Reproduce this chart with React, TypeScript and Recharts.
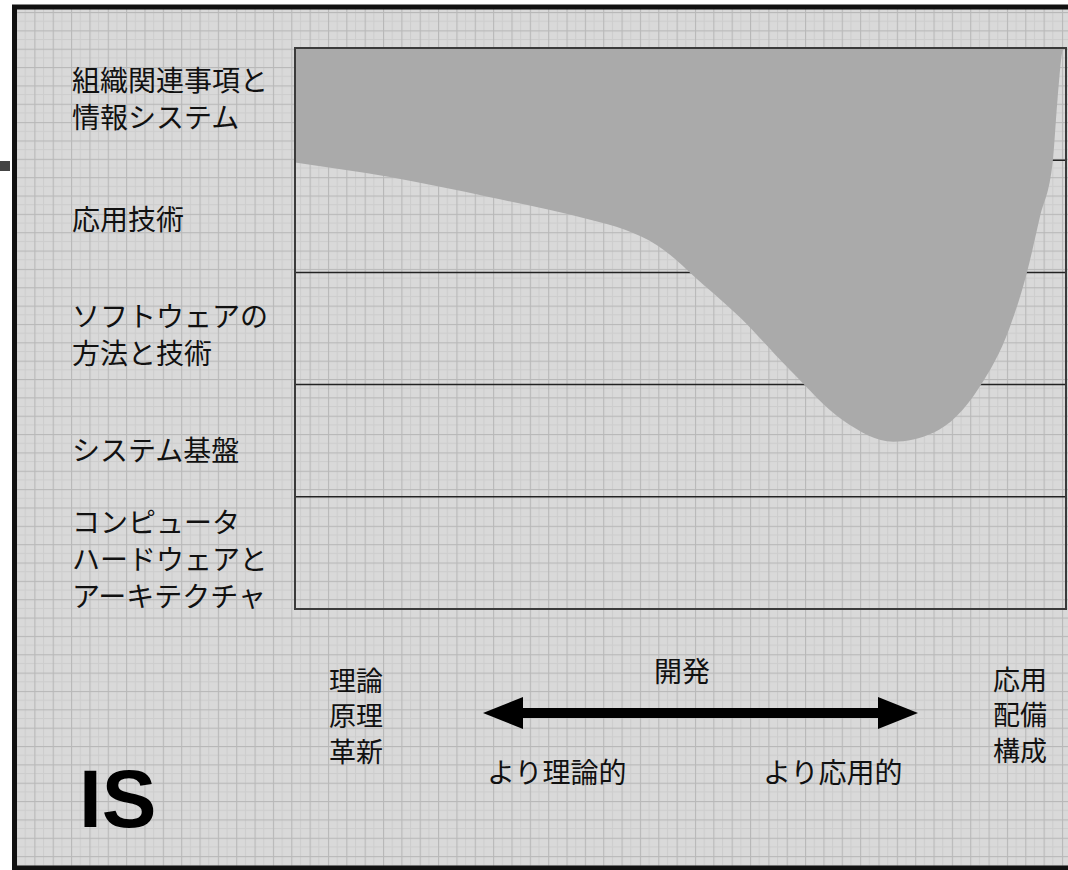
import React from "react";
import { AreaChart, Area, XAxis, YAxis, CartesianGrid, ReferenceArea } from "recharts";

// horizontal position across the plot (0 = left edge, 100 = right edge)
const curveX = [0, 12.3, 25.3, 38.3, 42.8, 47, 49.3, 51.2, 57.7, 64.2, 71.1, 77.6, 82.8, 88.8, 92.7, 94.9, 96.6, 98.3, 98.9, 99.6, 100];
// depth of the grey region, counted in bands from the top
const curveDepth = [1.02, 1.15, 1.33, 1.53, 1.62, 1.76, 1.88, 2.0, 2.4, 2.87, 3.32, 3.51, 3.43, 3.02, 2.49, 2.01, 1.51, 1.0, 0.46, 0.02, 0];

const bandLabels = [
  ["組織関連事項と", "情報システム"],
  ["応用技術"],
  ["ソフトウェアの", "方法と技術"],
  ["システム基盤"],
  ["コンピュータ", "ハードウェアと", "アーキテクチャ"],
];
const bandTicks = [0.5, 1.5, 2.5, 3.5, 4.5];
const bandEdges = [1, 2, 3, 4];

const leftEnd = ["理論", "原理", "革新"];
const rightEnd = ["応用", "配備", "構成"];
const axisTitle = "開発";
const leftHint = "より理論的";
const rightHint = "より応用的";
const badge = "IS";

const data = curveX.map((x, i) => ({ x, depth: curveDepth[i] }));

const W = 1068;
const H = 870;
const JP = '"Noto Sans CJK JP", "Noto Sans", sans-serif';
const labelNudge = [-7, 2, 5, 8, 5];

const BandTick = (props: any) => {
  const { y, payload, index } = props;
  const i = payload?.index ?? index ?? 0;
  const lines = bandLabels[i] || [];
  const cy = y + (labelNudge[i] || 0);
  return (
    <text x={72} y={cy} fontFamily={JP} fontSize={28} fill="#111" textAnchor="start">
      {lines.map((l, k) => (
        <tspan key={k} x={72} y={cy + (k - (lines.length - 1) / 2) * 37} dominantBaseline="central">
          {l}
        </tspan>
      ))}
    </text>
  );
};

const Stack = ({ lines, x, y }: { lines: string[]; x: number; y: number }) => (
  <text fontFamily={JP} fontSize={27} fill="#111">
    {lines.map((l, k) => (
      <tspan key={k} x={x} y={y + k * 35.5} dominantBaseline="central">
        {l}
      </tspan>
    ))}
  </text>
);

export default function App() {
  return (
    <div style={{ position: "fixed", left: 0, top: 0, width: W, height: H, overflow: "hidden" }}>
      <svg width={W} height={H} style={{ position: "absolute", left: 0, top: 0 }}>
        <defs>
          <pattern id="paper" x={16} y={12} width={18.35} height={18.35} patternUnits="userSpaceOnUse">
            <rect width={18.35} height={18.35} fill="#d9d9d9" />
            <line x1={9.2} y1={0} x2={9.2} y2={18.35} stroke="#cdcdcd" strokeWidth={1} />
            <line x1={0} y1={9.2} x2={18.35} y2={9.2} stroke="#cdcdcd" strokeWidth={1} />
            <line x1={0.5} y1={0} x2={0.5} y2={18.35} stroke="#b8b8b8" strokeWidth={1.2} />
            <line x1={0} y1={0.5} x2={18.35} y2={0.5} stroke="#b8b8b8" strokeWidth={1.2} />
          </pattern>
        </defs>
        <rect width={W} height={H} fill="#ffffff" />
        <rect x={14.5} y={7} width={1100} height={861} fill="url(#paper)" stroke="#111" strokeWidth={5} />
        <rect x={0} y={161} width={10} height={10} fill="#444" />
      </svg>

      <div style={{ position: "absolute", left: 0, top: 0 }}>
        <AreaChart width={W} height={H} data={data} margin={{ top: 48, right: 2, bottom: 261, left: 12 }}>
          <CartesianGrid
            vertical={false}
            fill="none"
            stroke="#222"
            strokeWidth={1.5}
            horizontalCoordinatesGenerator={(p: any) => {
              const sc = p?.yAxis?.scale;
              if (typeof sc === "function") return bandEdges.map((v) => sc(v));
              return bandEdges.map((v) => p.offset.top + (p.offset.height * v) / 5);
            }}
          />
          <XAxis dataKey="x" type="number" domain={[0, 100]} hide />
          <YAxis
            type="number"
            domain={[0, 5]}
            reversed
            ticks={bandTicks}
            width={283}
            axisLine={false}
            tickLine={false}
            tick={(p: any) => <BandTick {...p} />}
          />
          <Area
            type="monotone"
            dataKey="depth"
            baseValue={0}
            stroke="none"
            fill="#aaaaaa"
            fillOpacity={1}
            isAnimationActive={false}
          />
          <ReferenceArea x1={0} x2={100} y1={0} y2={5} fill="none" stroke="#3a3a3a" strokeWidth={2} />
        </AreaChart>
      </div>

      <svg width={W} height={H} style={{ position: "absolute", left: 0, top: 0, pointerEvents: "none" }}>
        <Stack lines={leftEnd} x={329} y={679} />
        <Stack lines={rightEnd} x={993} y={678} />
        <text x={682} y={670} fontFamily={JP} fontSize={28} fill="#111" textAnchor="middle" dominantBaseline="central">
          {axisTitle}
        </text>
        <text x={487} y={771} fontFamily={JP} fontSize={28} fill="#111" dominantBaseline="central">
          {leftHint}
        </text>
        <text x={763} y={771} fontFamily={JP} fontSize={28} fill="#111" dominantBaseline="central">
          {rightHint}
        </text>
        <line x1={515} y1={713} x2={886} y2={713} stroke="#000" strokeWidth={10} />
        <polygon points="483,713 523,697 523,729" fill="#000" />
        <polygon points="918,713 878,697 878,729" fill="#000" />
        <text x={79} y={827} fontFamily='"Liberation Sans", Arial, sans-serif' fontWeight="bold" fontSize={82} fill="#000">
          {badge}
        </text>
      </svg>
    </div>
  );
}
